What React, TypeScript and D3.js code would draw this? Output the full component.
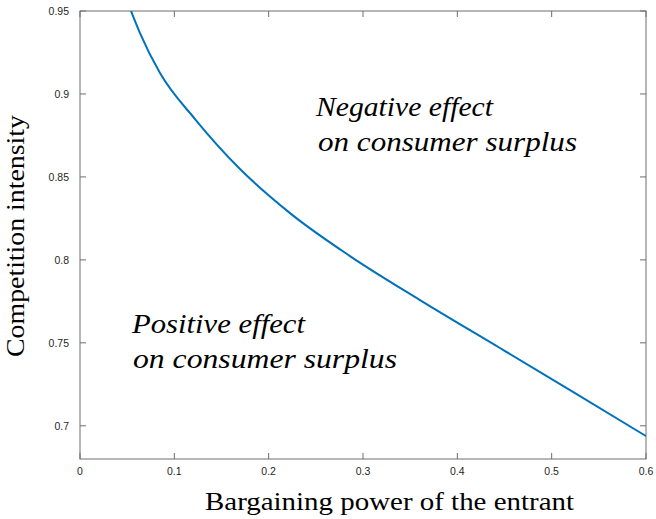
import React from "react";
import * as d3 from "d3";

const xValues = [0.0541, 0.0636, 0.0848, 0.1219, 0.1696, 0.2226, 0.2862, 0.3604, 0.4452, 0.5195, 0.6];
const yValues = [0.95, 0.9367, 0.9126, 0.8849, 0.8548, 0.8282, 0.8023, 0.7758, 0.7469, 0.7215, 0.6938];
const xTicks = [0, 0.1, 0.2, 0.3, 0.4, 0.5, 0.6];
const yTicks = [0.7, 0.75, 0.8, 0.85, 0.9, 0.95];
const xTickLabels = ["0", "0.1", "0.2", "0.3", "0.4", "0.5", "0.6"];
const yTickLabels = ["0.7", "0.75", "0.8", "0.85", "0.9", "0.95"];

const W = 656, H = 519;
const L = 80, R = 646, T = 11, B = 459;
const axisColor = "#6e6e6e";
const textColor = "#262626";
const serif = "'Liberation Serif', 'DejaVu Serif', serif";
const sans = "'Liberation Sans', Arial, Helvetica, sans-serif";

function Ital(props: { x: number; y: number; w: number; children: string }) {
  return (
    <text
      x={props.x}
      y={props.y}
      fontFamily={serif}
      fontStyle="italic"
      fontSize={28}
      fill="#000"
      textLength={props.w}
      lengthAdjust="spacingAndGlyphs"
    >
      {props.children}
    </text>
  );
}

export default function App() {
  const x = d3.scaleLinear().domain([0, 0.6]).range([L, R]);
  const y = d3.scaleLinear().domain([0.68, 0.95]).range([B, T]);
  const pts: [number, number][] = xValues.map((v, i) => [v, yValues[i]]);
  const line = d3
    .line<[number, number]>()
    .x((d) => x(d[0]))
    .y((d) => y(d[1]))
    .curve(d3.curveMonotoneX);
  const tl = 6;
  return (
    <svg
      width={W}
      height={H}
      style={{ position: "absolute", left: 0, top: 0, background: "#fff" }}
    >
      <rect x={0} y={0} width={W} height={H} fill="#fff" />
      <defs>
        <clipPath id="plotclip">
          <rect x={L} y={T} width={R - L} height={B - T} />
        </clipPath>
      </defs>
      <rect x={L} y={T} width={R - L} height={B - T} fill="none" stroke={axisColor} strokeWidth={1} />
      {xTicks.map((t, i) => (
        <g key={"xt" + i}>
          <line x1={x(t)} x2={x(t)} y1={B} y2={B - tl} stroke={axisColor} />
          <line x1={x(t)} x2={x(t)} y1={T} y2={T + tl} stroke={axisColor} />
          <text
            x={x(t)}
            y={B + 16}
            textAnchor="middle"
            fontFamily={sans}
            fontSize={10.5}
            fill={textColor}
          >
            {xTickLabels[i]}
          </text>
        </g>
      ))}
      {yTicks.map((t, i) => (
        <g key={"yt" + i}>
          <line x1={L} x2={L + tl} y1={y(t)} y2={y(t)} stroke={axisColor} />
          <line x1={R} x2={R - tl} y1={y(t)} y2={y(t)} stroke={axisColor} />
          <text
            x={L - 11}
            y={y(t) + 4}
            textAnchor="end"
            fontFamily={sans}
            fontSize={10.5}
            fill={textColor}
          >
            {yTickLabels[i]}
          </text>
        </g>
      ))}
      <path
        d={line(pts) || ""}
        fill="none"
        stroke="#0072BD"
        strokeWidth={2}
        clipPath="url(#plotclip)"
      />
      <Ital x={316} y={115.5} w={177}>Negative effect</Ital>
      <Ital x={318} y={150.5} w={259}>on consumer surplus</Ital>
      <Ital x={132} y={333} w={173}>Positive effect</Ital>
      <Ital x={133} y={368} w={264}>on consumer surplus</Ital>
      <text
        x={205}
        y={510}
        fontFamily={serif}
        fontSize={26}
        fill="#000"
        textLength={369}
        lengthAdjust="spacingAndGlyphs"
      >
        Bargaining power of the entrant
      </text>
      <text
        transform={`translate(24,357) rotate(-90)`}
        x={0}
        y={0}
        fontFamily={serif}
        fontSize={26}
        fill="#000"
        textLength={242}
        lengthAdjust="spacingAndGlyphs"
      >
        Competition intensity
      </text>
    </svg>
  );
}
